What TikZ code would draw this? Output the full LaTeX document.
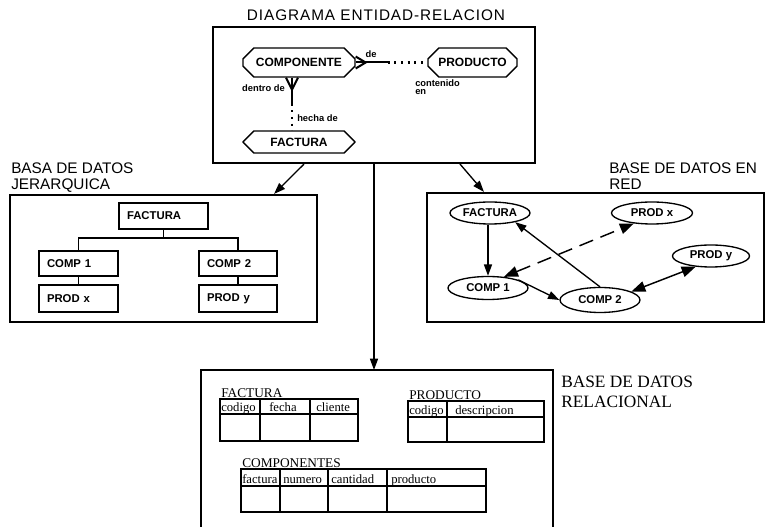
\documentclass[tikz,border=0pt]{standalone}
\usepackage{fontspec}
\setmainfont{Liberation Serif}
\setsansfont{Liberation Sans}
\usetikzlibrary{arrows.meta,shapes.geometric,shapes.misc,calc}
\begin{document}
\begin{tikzpicture}[x=0.75pt,y=-0.75pt,
  heading/.style={inner sep=0, align=left, font=\sffamily\fontsize{11.5}{11.5}\selectfont},
  titlestyle/.style={inner sep=0, font=\sffamily\fontsize{11.5}{11.5}\selectfont\addfontfeature{LetterSpace=6}},
  serifhead/.style={inner sep=0, align=left, font=\rmfamily\fontsize{13}{15}\selectfont},
  panel/.style={draw, line width=1.6pt, inner sep=0},
  erent/.style={chamfered rectangle, chamfered rectangle xsep=5pt, chamfered rectangle ysep=5pt,
    draw, line width=1pt, inner sep=0, font=\sffamily\bfseries\fontsize{9}{9}\selectfont},
  tag/.style={inner sep=0, font=\sffamily\bfseries\fontsize{7}{6}\selectfont},
  rel/.style={line width=1.5pt},
  dotrel/.style={line width=1.6pt, dash pattern=on 1.6pt off 3.4pt},
  hbox/.style={draw, line width=0.9pt, inner xsep=6pt, inner ysep=0, text width=#1, align=left,
    font=\sffamily\bfseries\fontsize{8.5}{9}\selectfont},
  netnode/.style={ellipse, draw, line width=1pt, inner sep=0, font=\sffamily\bfseries\fontsize{8.5}{9}\selectfont},
  link/.style={line width=0.9pt},
  arr/.style={line width=1pt, -{Triangle[length=8.5pt,width=6pt]}},
  bigarr/.style={line width=1.1pt, {Triangle[length=10.5pt,width=8pt]}-{Triangle[length=10.5pt,width=8pt]}},
  tabline/.style={line width=0.9pt},
  colhead/.style={anchor=base west, inner sep=0, font=\rmfamily\fontsize{9.5}{9.5}\selectfont},
  tabtitle/.style={anchor=base west, inner sep=0, font=\rmfamily\fontsize{10}{10}\selectfont}
]
\useasboundingbox (0,0) rectangle (769,527);

% ---------- entity-relationship diagram ----------
\node[titlestyle] (ttl) at (376,15) {DIAGRAMA ENTIDAD-RELACION};
\node[panel, minimum width=241.5pt, minimum height=102pt] (erpanel) at (374,95) {};

\node[erent, minimum width=84pt, minimum height=21.75pt] (ecomp) at (299,62.5) {COMPONENTE};
\node[erent, minimum width=66.75pt, minimum height=21.75pt] (eprod) at (472.5,62.5) {PRODUCTO};
\node[erent, minimum width=84pt, minimum height=16.5pt] (efact) at (299,142) {FACTURA};

% crow's foot towards PRODUCTO
\coordinate (cfR) at ($(ecomp.east)+(10,0)$);
\coordinate (solR) at ($(ecomp.east)+(32,0)$);
\draw[rel] (ecomp.east) -- (solR);
\draw[rel] ($(ecomp.east)+(0,-6)$) -- (cfR) -- ($(ecomp.east)+(0,6)$);
\draw[dotrel] (solR) -- (eprod.west);

% crow's foot towards FACTURA
\coordinate (cfB0) at ($(ecomp.south)+(-7,0)$);
\coordinate (cfB) at ($(cfB0)+(0,12)$);
\coordinate (solB) at ($(cfB0)+(0,26)$);
\draw[rel] (cfB0) -- (solB);
\draw[rel] ($(cfB0)+(-6,0)$) -- (cfB) -- ($(cfB0)+(6,0)$);
\draw[dotrel] (solB) -- (solB |- efact.north);

\node[tag] (lde) at (371,54) {de};
\node[tag, anchor=east] (ldentro) at (285,88) {dentro de};
\node[tag, anchor=west] (lhecha) at (297,118) {hecha de};
\node[tag, anchor=north west, align=left] (lcont) at (415,79) {contenido\\en};

% ---------- hierarchical database ----------
\node[heading, anchor=north west] (jlabel) at (11,163) {BASA DE DATOS\\JERARQUICA};
\node[panel, minimum width=230.25pt, minimum height=95.25pt] (jpanel) at (163.5,258.5) {};

\node[hbox=54.75pt, minimum height=19.5pt] (hf) at (163.5,216) {FACTURA};
\node[hbox=47.25pt, minimum height=18.75pt] (hc1) at (78.5,263.5) {COMP 1};
\node[hbox=46.5pt, minimum height=18.75pt] (hc2) at (238,263.5) {COMP 2};
\node[hbox=47.25pt, minimum height=20.25pt] (hp1) at (78.5,298.5) {PROD x};
\node[hbox=46.5pt, minimum height=20.25pt] (hp2) at (238,298.5) {PROD y};
\coordinate (hbar) at (163.5,238);
\draw[link] (hf.south) -- (hbar);
\draw[link] (hc1.north) |- (hbar) -| (hc2.north);
\draw[link] (hc1.south) -- (hp1.north);
\draw[link] (hc2.south) -- (hp2.north);

% ---------- network database ----------
\node[heading, anchor=north west] (rlabel) at (609,163) {BASE DE DATOS EN\\RED};
\node[panel, minimum width=252.75pt, minimum height=96.75pt] (rpanel) at (595.5,257.5) {};

\node[netnode, minimum width=60pt, minimum height=16.5pt] (nf) at (490,213) {FACTURA};
\node[netnode, minimum width=60.75pt, minimum height=16.5pt] (npx) at (652,213) {PROD x};
\node[netnode, minimum width=57.75pt, minimum height=16.5pt] (npy) at (711,256) {PROD y};
\node[netnode, minimum width=60pt, minimum height=17.25pt] (nc1) at (488,288) {COMP 1};
\node[netnode, minimum width=60pt, minimum height=18.75pt] (nc2) at (600,300) {COMP 2};

\draw[arr] (nc1.north |- nf.south) -- (nc1.north);
\draw[arr] (nc1.15) -- (nc2.west);
\draw[arr] (nc2.north) -- (nf.-20);
\draw[bigarr, dash pattern=on 11pt off 6pt] (nc1.35) -- (npx.210);
\draw[bigarr] (nc2.15) -- (npy.215);

% ---------- relational database ----------
\coordinate (relTL) at (201,370);
\coordinate (relTR) at (553,370);
\coordinate (relBL) at (201,527);
\coordinate (relBR) at (553,527);
\draw[panel] (relBL) -- (relTL) -- (relTR) -- (relBR);
\node[serifhead, anchor=north west] (rellabel) at (561,376) {BASE DE DATOS\\RELACIONAL};

% table FACTURA
\node[tabtitle] (tfact) at (221,398) {FACTURA};
\draw[tabline] (220,399) rectangle (358,441);
\draw[tabline] (220,414) -- (358,414);
\draw[tabline] (260,399) -- (260,441);
\draw[tabline] (310,399) -- (310,441);
\node[colhead] (fc1) at (221,412) {codigo};
\node[colhead] (fc2) at (269,412) {fecha};
\node[colhead] (fc3) at (316,412) {cliente};

% table PRODUCTO
\node[tabtitle] (tprod) at (409,400) {PRODUCTO};
\draw[tabline] (408,401) rectangle (544,442);
\draw[tabline] (408,417) -- (544,417);
\draw[tabline] (447,401) -- (447,442);
\node[colhead] (pc1) at (409,415) {codigo};
\node[colhead] (pc2) at (455,415) {descripcion};

% table COMPONENTES
\node[tabtitle] (tcomp) at (242,468) {COMPONENTES};
\draw[tabline] (241,469) rectangle (486,512);
\draw[tabline] (241,486) -- (486,486);
\draw[tabline] (280,469) -- (280,512);
\draw[tabline] (328,469) -- (328,512);
\draw[tabline] (387,469) -- (387,512);
\node[colhead] (cc1) at (242,484) {factura};
\node[colhead] (cc2) at (283,484) {numero};
\node[colhead] (cc3) at (331,484) {cantidad};
\node[colhead] (cc4) at (391,484) {producto};

% panels linked by arrows
\draw[arr] ($(erpanel.south)+(-70,0)$) -- ($(jpanel.north east)+(-44,0)$);
\draw[arr] (erpanel.south) -- (erpanel.south |- relTL);
\draw[arr] ($(erpanel.south)+(86,0)$) -- ($(rpanel.north west)+(58,0)$);
\end{tikzpicture}
\end{document}
